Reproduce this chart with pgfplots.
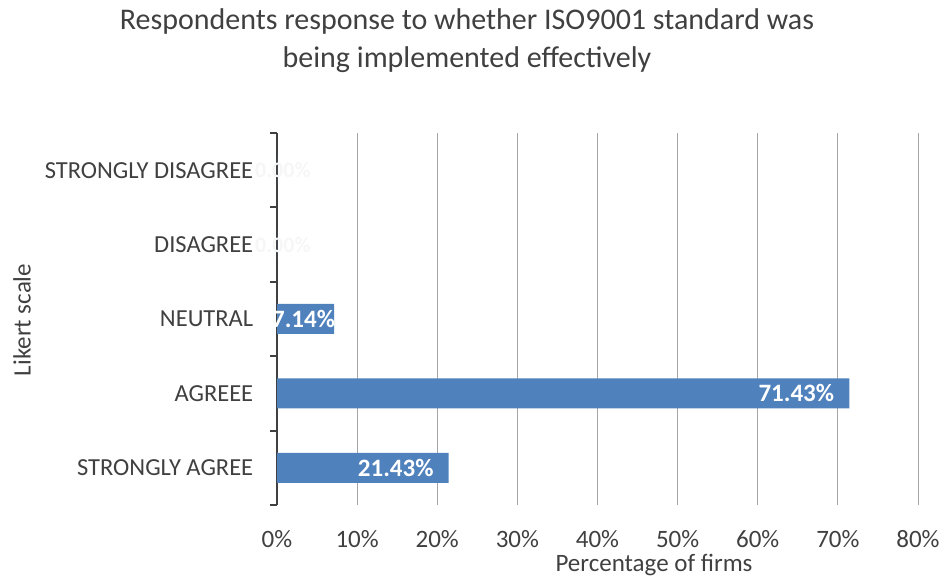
\documentclass[border=0pt]{standalone}
\usepackage{pgfplots}
\pgfplotsset{compat=1.18}
\usepackage{fontspec}
\setmainfont{Carlito}
\definecolor{barblue}{HTML}{4F81BD}
\definecolor{txtgray}{HTML}{404040}
\definecolor{gridgray}{HTML}{A6A6A6}
\begin{document}
\begin{tikzpicture}[x=1pt,y=1pt]
\useasboundingbox (0,0) rectangle (942,580);
% chart title
\node[text=txtgray,font=\fontsize{30}{38}\selectfont,align=center] at (467,539)
  {Respondents response to whether ISO9001 standard was\\being implemented effectively};
% axis titles
\node[text=txtgray,font=\fontsize{25}{30}\selectfont,rotate=90] at (22,260) {Likert scale};
\node[text=txtgray,font=\fontsize{25}{30}\selectfont] at (654,15) {Percentage of firms};
\begin{axis}[
  at={(277pt,75pt)}, anchor=south west,
  scale only axis, width=641pt, height=372pt,
  xmin=0, xmax=80, ymin=-0.5, ymax=4.5,
  axis x line*=bottom, axis y line*=left,
  x axis line style={draw=none},
  y axis line style={draw=txtgray, line width=2pt},
  xtick={0,10,...,80},
  xticklabel={\pgfmathprintnumber{\tick}\%},
  xmajorgrids, major grid style={gridgray, line width=1pt},
  major x tick style={draw=none},
  ytick={0,1,2,3,4},
  yticklabels={STRONGLY AGREE,AGREEE,NEUTRAL,DISAGREE,STRONGLY DISAGREE},
  major y tick style={draw=none},
  minor ytick={-0.5,0.5,...,4.5},
  minor y tick style={draw=txtgray, line width=2pt},
  minor tick length=7pt, tick align=outside,
  tick label style={text=txtgray},
  xticklabel style={font=\fontsize{25}{28}\selectfont, yshift=-18pt},
  yticklabel style={font=\fontsize{24.5}{28}\selectfont, xshift=-16pt},
  /pgf/number format/assume math mode=true,
  clip=false,
]
% bars
\addplot[xbar, bar width=30pt, bar shift=0pt, fill=barblue, draw=none]
  coordinates {(21.43,0) (71.43,1) (7.14,2) (0,3) (0,4)};
% value labels inside the larger bars
\addplot[draw=none, mark=none, point meta=x,
  nodes near coords={\pgfmathprintnumber[fixed,fixed zerofill,precision=2]{\pgfplotspointmeta}\%},
  every node near coord/.append style={anchor=east, text=white, font=\bfseries\fontsize{25}{28}\selectfont, xshift=-15pt, inner sep=0pt}]
  coordinates {(21.43,0) (71.43,1)};
\addplot[draw=none, mark=none, point meta=x,
  nodes near coords={\pgfmathprintnumber[fixed,fixed zerofill,precision=2]{\pgfplotspointmeta}\%},
  every node near coord/.append style={anchor=east, text=white, font=\bfseries\fontsize{25}{28}\selectfont, xshift=1pt, inner sep=0pt}]
  coordinates {(7.14,2)};
% zero values sit on the axis, white on white
\addplot[draw=none, mark=none, point meta=x,
  nodes near coords={\pgfmathprintnumber[fixed,fixed zerofill,precision=2]{\pgfplotspointmeta}\%},
  every node near coord/.append style={anchor=west, text=white!93!gray, font=\bfseries\fontsize{22}{24}\selectfont, xshift=-22pt, inner sep=0pt}]
  coordinates {(0,3) (0,4)};
\end{axis}
\end{tikzpicture}
\end{document}
